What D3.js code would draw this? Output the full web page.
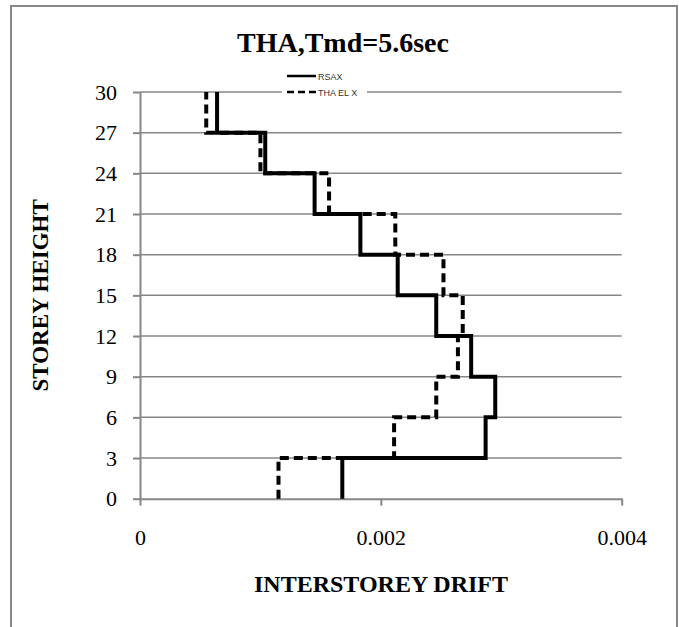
<!DOCTYPE html>
<html>
<head>
<meta charset="utf-8">
<script src="https://cdn.jsdelivr.net/npm/d3@7"></script>
<style>
  html, body { margin: 0; padding: 0; background: #fff; }
  svg { display: block; }
</style>
</head>
<body>
<svg id="chart" width="679" height="627"></svg>
<script>
// Storey levels (bottom of each storey up to roof) and drift per storey
const storeyLevels = [0, 3, 6, 9, 12, 15, 18, 21, 24, 27, 30];
const rsax   = [0.00168, 0.00287, 0.00295, 0.00275, 0.00246, 0.00214, 0.00183, 0.00145, 0.00104, 0.00064];
const thaElX = [0.00115, 0.00211, 0.00246, 0.00264, 0.00268, 0.00252, 0.00212, 0.00157, 0.00100, 0.00055];

const seriesNames = ["RSAX", "THA EL X"];
const xTicks = [0, 0.002, 0.004];
const xTickLabels = ["0", "0.002", "0.004"];
const yTicks = [0, 3, 6, 9, 12, 15, 18, 21, 24, 27, 30];

const svg = d3.select("#chart");
const serif = "'Liberation Serif', 'Times New Roman', serif";
const gridColor = "#878787";

// Outer frame
svg.append("rect")
  .attr("x", 11).attr("y", 6)
  .attr("width", 666).attr("height", 660)
  .attr("fill", "#fff")
  .attr("stroke", gridColor).attr("stroke-width", 2);

const x = d3.scaleLinear().domain([0, 0.004]).range([140, 621.7]);
const y = d3.scaleLinear().domain([0, 30]).range([498.7, 92]);

// Horizontal gridlines
svg.append("g").selectAll("line")
  .data(yTicks.filter(t => t !== 0))
  .join("line")
  .attr("x1", x(0)).attr("x2", x(0.004))
  .attr("y1", d => y(d)).attr("y2", d => y(d))
  .attr("stroke", gridColor).attr("stroke-width", 1.5);

// Axes
const xAxis = svg.append("g")
  .attr("transform", `translate(0,${y(0)})`)
  .call(d3.axisBottom(x).tickValues(xTicks)
    .tickFormat((d, i) => xTickLabels[i])
    .tickSize(7).tickSizeOuter(0).tickPadding(24));
const yAxis = svg.append("g")
  .attr("transform", `translate(${x(0)},0)`)
  .call(d3.axisLeft(y).tickValues(yTicks)
    .tickSize(7).tickSizeOuter(0).tickPadding(16));

[xAxis, yAxis].forEach(g => {
  g.select(".domain").attr("stroke", gridColor).attr("stroke-width", 2);
  g.selectAll(".tick line").attr("stroke", gridColor).attr("stroke-width", 2);
  g.selectAll(".tick text")
    .attr("fill", "#000")
    .style("font-family", serif)
    .style("font-size", "22px");
});

// Step profiles: each storey drawn as a vertical run at its drift value
function stepPoints(values) {
  const pts = [];
  values.forEach((v, i) => {
    pts.push([v, storeyLevels[i]]);
    pts.push([v, storeyLevels[i + 1]]);
  });
  return pts;
}
const line = d3.line().x(d => x(d[0])).y(d => y(d[1]));

const series = [
  { name: seriesNames[0], values: rsax, dash: null },
  { name: seriesNames[1], values: thaElX, dash: "9,5" }
];

svg.append("g").selectAll("path")
  .data(series)
  .join("path")
  .attr("d", d => line(stepPoints(d.values)))
  .attr("fill", "none")
  .attr("stroke", "#000")
  .attr("stroke-width", 4)
  .attr("stroke-dasharray", d => d.dash);

// Title
svg.append("text")
  .attr("x", 343).attr("y", 52)
  .attr("text-anchor", "middle")
  .style("font-family", serif)
  .style("font-weight", "bold")
  .style("font-size", "28px")
  .text("THA,Tmd=5.6sec");

// Legend
const legend = svg.append("g");
legend.append("rect")
  .attr("x", 282).attr("y", 66).attr("width", 85).attr("height", 32)
  .attr("fill", "#fff");
const legendRows = legend.selectAll("g")
  .data(series)
  .join("g")
  .attr("transform", (d, i) => `translate(287,${76 + i * 16})`);
legendRows.append("line")
  .attr("x1", 0).attr("x2", 29)
  .attr("stroke", "#000").attr("stroke-width", 2.5)
  .attr("stroke-dasharray", d => d.dash ? "7,4" : null);
legendRows.append("text")
  .attr("x", 31).attr("y", 3.5)
  .style("font-family", "'Liberation Sans', Arial, sans-serif")
  .style("font-size", "9px")
  .attr("fill", "#333")
  .text(d => d.name);

// Axis titles
svg.append("text")
  .attr("x", 381).attr("y", 592)
  .attr("text-anchor", "middle")
  .style("font-family", serif)
  .style("font-weight", "bold")
  .style("font-size", "24px")
  .text("INTERSTOREY DRIFT");

svg.append("text")
  .attr("transform", `translate(48,${(y(0) + y(30)) / 2}) rotate(-90)`)
  .attr("text-anchor", "middle")
  .style("font-family", serif)
  .style("font-weight", "bold")
  .style("font-size", "23px")
  .text("STOREY HEIGHT");
</script>
</body>
</html>
